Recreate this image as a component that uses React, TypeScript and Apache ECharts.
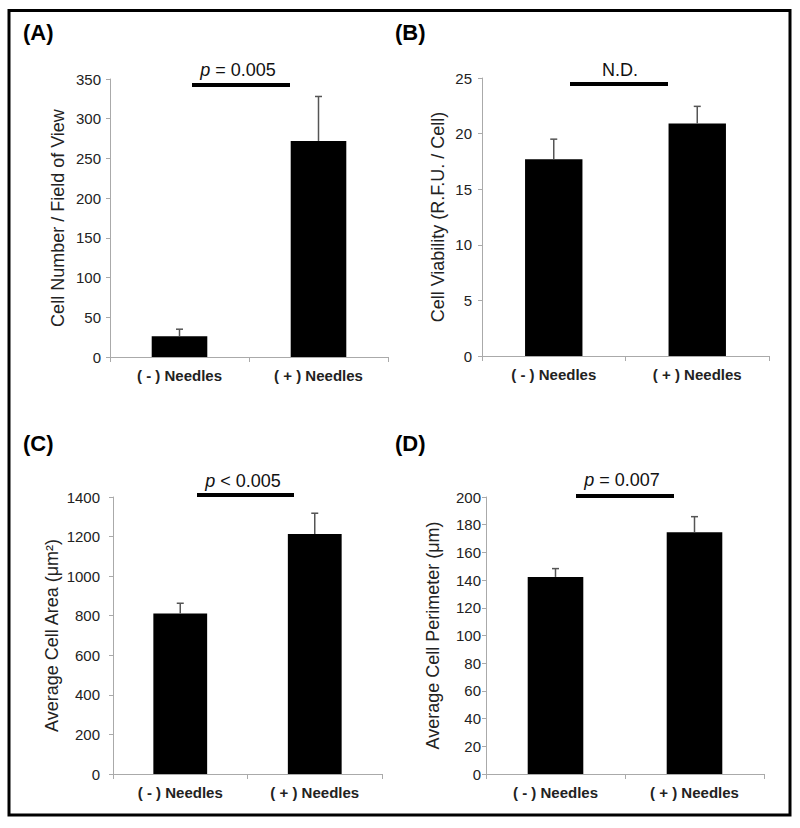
import React, { useEffect, useRef } from "react";
import * as echarts from "echarts";

const categories = ["( - ) Needles", "( + ) Needles"];

const cellNumber = [26, 272];
const cellNumberErr = [9, 56];
const viability = [17.7, 20.9];
const viabilityErr = [1.8, 1.55];
const cellArea = [811, 1213];
const cellAreaErr = [52, 105];
const cellPerimeter = [142.3, 174.5];
const cellPerimeterErr = [6, 11.3];

const yMaxes = [350, 25, 1400, 200];
const yIntervals = [50, 5, 200, 20];
const yTitles = [
  "Cell Number / Field of View",
  "Cell Viability (R.F.U. / Cell)",
  "Average Cell Area (μm²)",
  "Average Cell Perimeter (μm)",
];
const panelLabels = ["(A)", "(B)", "(C)", "(D)"];
const sigLabels = ["{i|p} = 0.005", "N.D.", "{i|p} < 0.005", "{i|p} = 0.007"];

const FONT = "'Liberation Sans', Arial, sans-serif";

export default function App() {
  const ref = useRef<HTMLDivElement>(null);

  useEffect(() => {
    if (!ref.current) return;
    const chart = echarts.init(ref.current, undefined, { renderer: "svg" });

    const values = [cellNumber, viability, cellArea, cellPerimeter];
    const errors = [cellNumberErr, viabilityErr, cellAreaErr, cellPerimeterErr];

    const grids = [
      { left: 110, top: 79, width: 278, height: 278 },
      { left: 482, top: 78, width: 287, height: 278 },
      { left: 113, top: 497, width: 269, height: 277 },
      { left: 486, top: 497, width: 278, height: 277 },
    ];
    const nameGaps = [43, 35, 52, 44];
    const labelMargins = [9, 10, 13, 5];

    const xAxis = grids.map((_, i) => ({
      type: "category",
      gridIndex: i,
      data: categories,
      boundaryGap: true,
      axisLine: { lineStyle: { color: "#aaaaaa", width: 1 } },
      axisTick: { show: true, length: 5, lineStyle: { color: "#aaaaaa" } },
      axisLabel: {
        color: "#222222",
        fontFamily: FONT,
        fontSize: 15,
        fontWeight: "bold",
        margin: 11,
      },
    }));

    const yAxis = grids.map((_, i) => ({
      type: "value",
      gridIndex: i,
      min: 0,
      max: yMaxes[i],
      interval: yIntervals[i],
      name: yTitles[i],
      nameLocation: "middle",
      nameGap: nameGaps[i],
      nameRotate: 90,
      nameTextStyle: { color: "#222222", fontFamily: FONT, fontSize: 18 },
      axisLine: { show: true, lineStyle: { color: "#aaaaaa", width: 1 } },
      axisTick: { show: true, length: 4, lineStyle: { color: "#aaaaaa" } },
      splitLine: { show: false },
      axisLabel: {
        color: "#222222",
        fontFamily: FONT,
        fontSize: 15,
        margin: labelMargins[i],
        formatter: (v: number) => String(v),
      },
    }));

    const series: any[] = [];
    values.forEach((vals, i) => {
      series.push({
        type: "bar",
        xAxisIndex: i,
        yAxisIndex: i,
        data: vals,
        barWidth: "40%",
        itemStyle: { color: "#000000" },
        z: 2,
      });
      series.push({
        type: "custom",
        xAxisIndex: i,
        yAxisIndex: i,
        z: 3,
        data: vals.map((v, j) => [j, v, errors[i][j]]),
        renderItem: (params: any, api: any) => {
          const x = api.value(0);
          const v = api.value(1);
          const e = api.value(2);
          const top = api.coord([x, v + e]);
          const base = api.coord([x, v]);
          const half = 3.5;
          const style = { stroke: "#555555", lineWidth: 1.5 };
          return {
            type: "group",
            children: [
              {
                type: "line",
                shape: { x1: top[0], y1: top[1], x2: base[0], y2: base[1] },
                style,
              },
              {
                type: "line",
                shape: { x1: top[0] - half, y1: top[1], x2: top[0] + half, y2: top[1] },
                style,
              },
            ],
          };
        },
      });
    });

    const labelPos = [
      [23, 32],
      [395, 32],
      [23, 443],
      [395, 443],
    ];
    const sigTextPos = [
      [238, 70],
      [620, 70],
      [243, 481],
      [622, 480],
    ];
    const sigBars = [
      [192, 83, 98],
      [570, 82, 98],
      [197, 493, 97],
      [576, 494, 98],
    ];

    const graphic: any[] = [
      {
        type: "rect",
        shape: { x: 9, y: 10.5, width: 781, height: 804.5 },
        style: { fill: "none", stroke: "#000000", lineWidth: 3 },
        z: 10,
      },
    ];
    panelLabels.forEach((t, i) => {
      graphic.push({
        type: "text",
        x: labelPos[i][0],
        y: labelPos[i][1],
        style: {
          text: t,
          fontFamily: FONT,
          fontSize: 22,
          fontWeight: "bold",
          fill: "#000000",
          align: "left",
          verticalAlign: "middle",
        },
      });
      graphic.push({
        type: "text",
        x: sigTextPos[i][0],
        y: sigTextPos[i][1],
        style: {
          text: sigLabels[i],
          fontFamily: FONT,
          fontSize: 18,
          fill: "#111111",
          align: "center",
          verticalAlign: "middle",
          rich: {
            i: { fontStyle: "italic", fontFamily: FONT, fontSize: 18, fill: "#111111" },
          },
        },
      });
      graphic.push({
        type: "rect",
        shape: { x: sigBars[i][0], y: sigBars[i][1], width: sigBars[i][2], height: 4 },
        style: { fill: "#000000" },
      });
    });

    chart.setOption({
      animation: false,
      backgroundColor: "#ffffff",
      grid: grids,
      xAxis,
      yAxis,
      series,
      graphic,
    });

    return () => chart.dispose();
  }, []);

  return (
    <div
      ref={ref}
      style={{ position: "fixed", left: 0, top: 0, width: 800, height: 828 }}
    />
  );
}
